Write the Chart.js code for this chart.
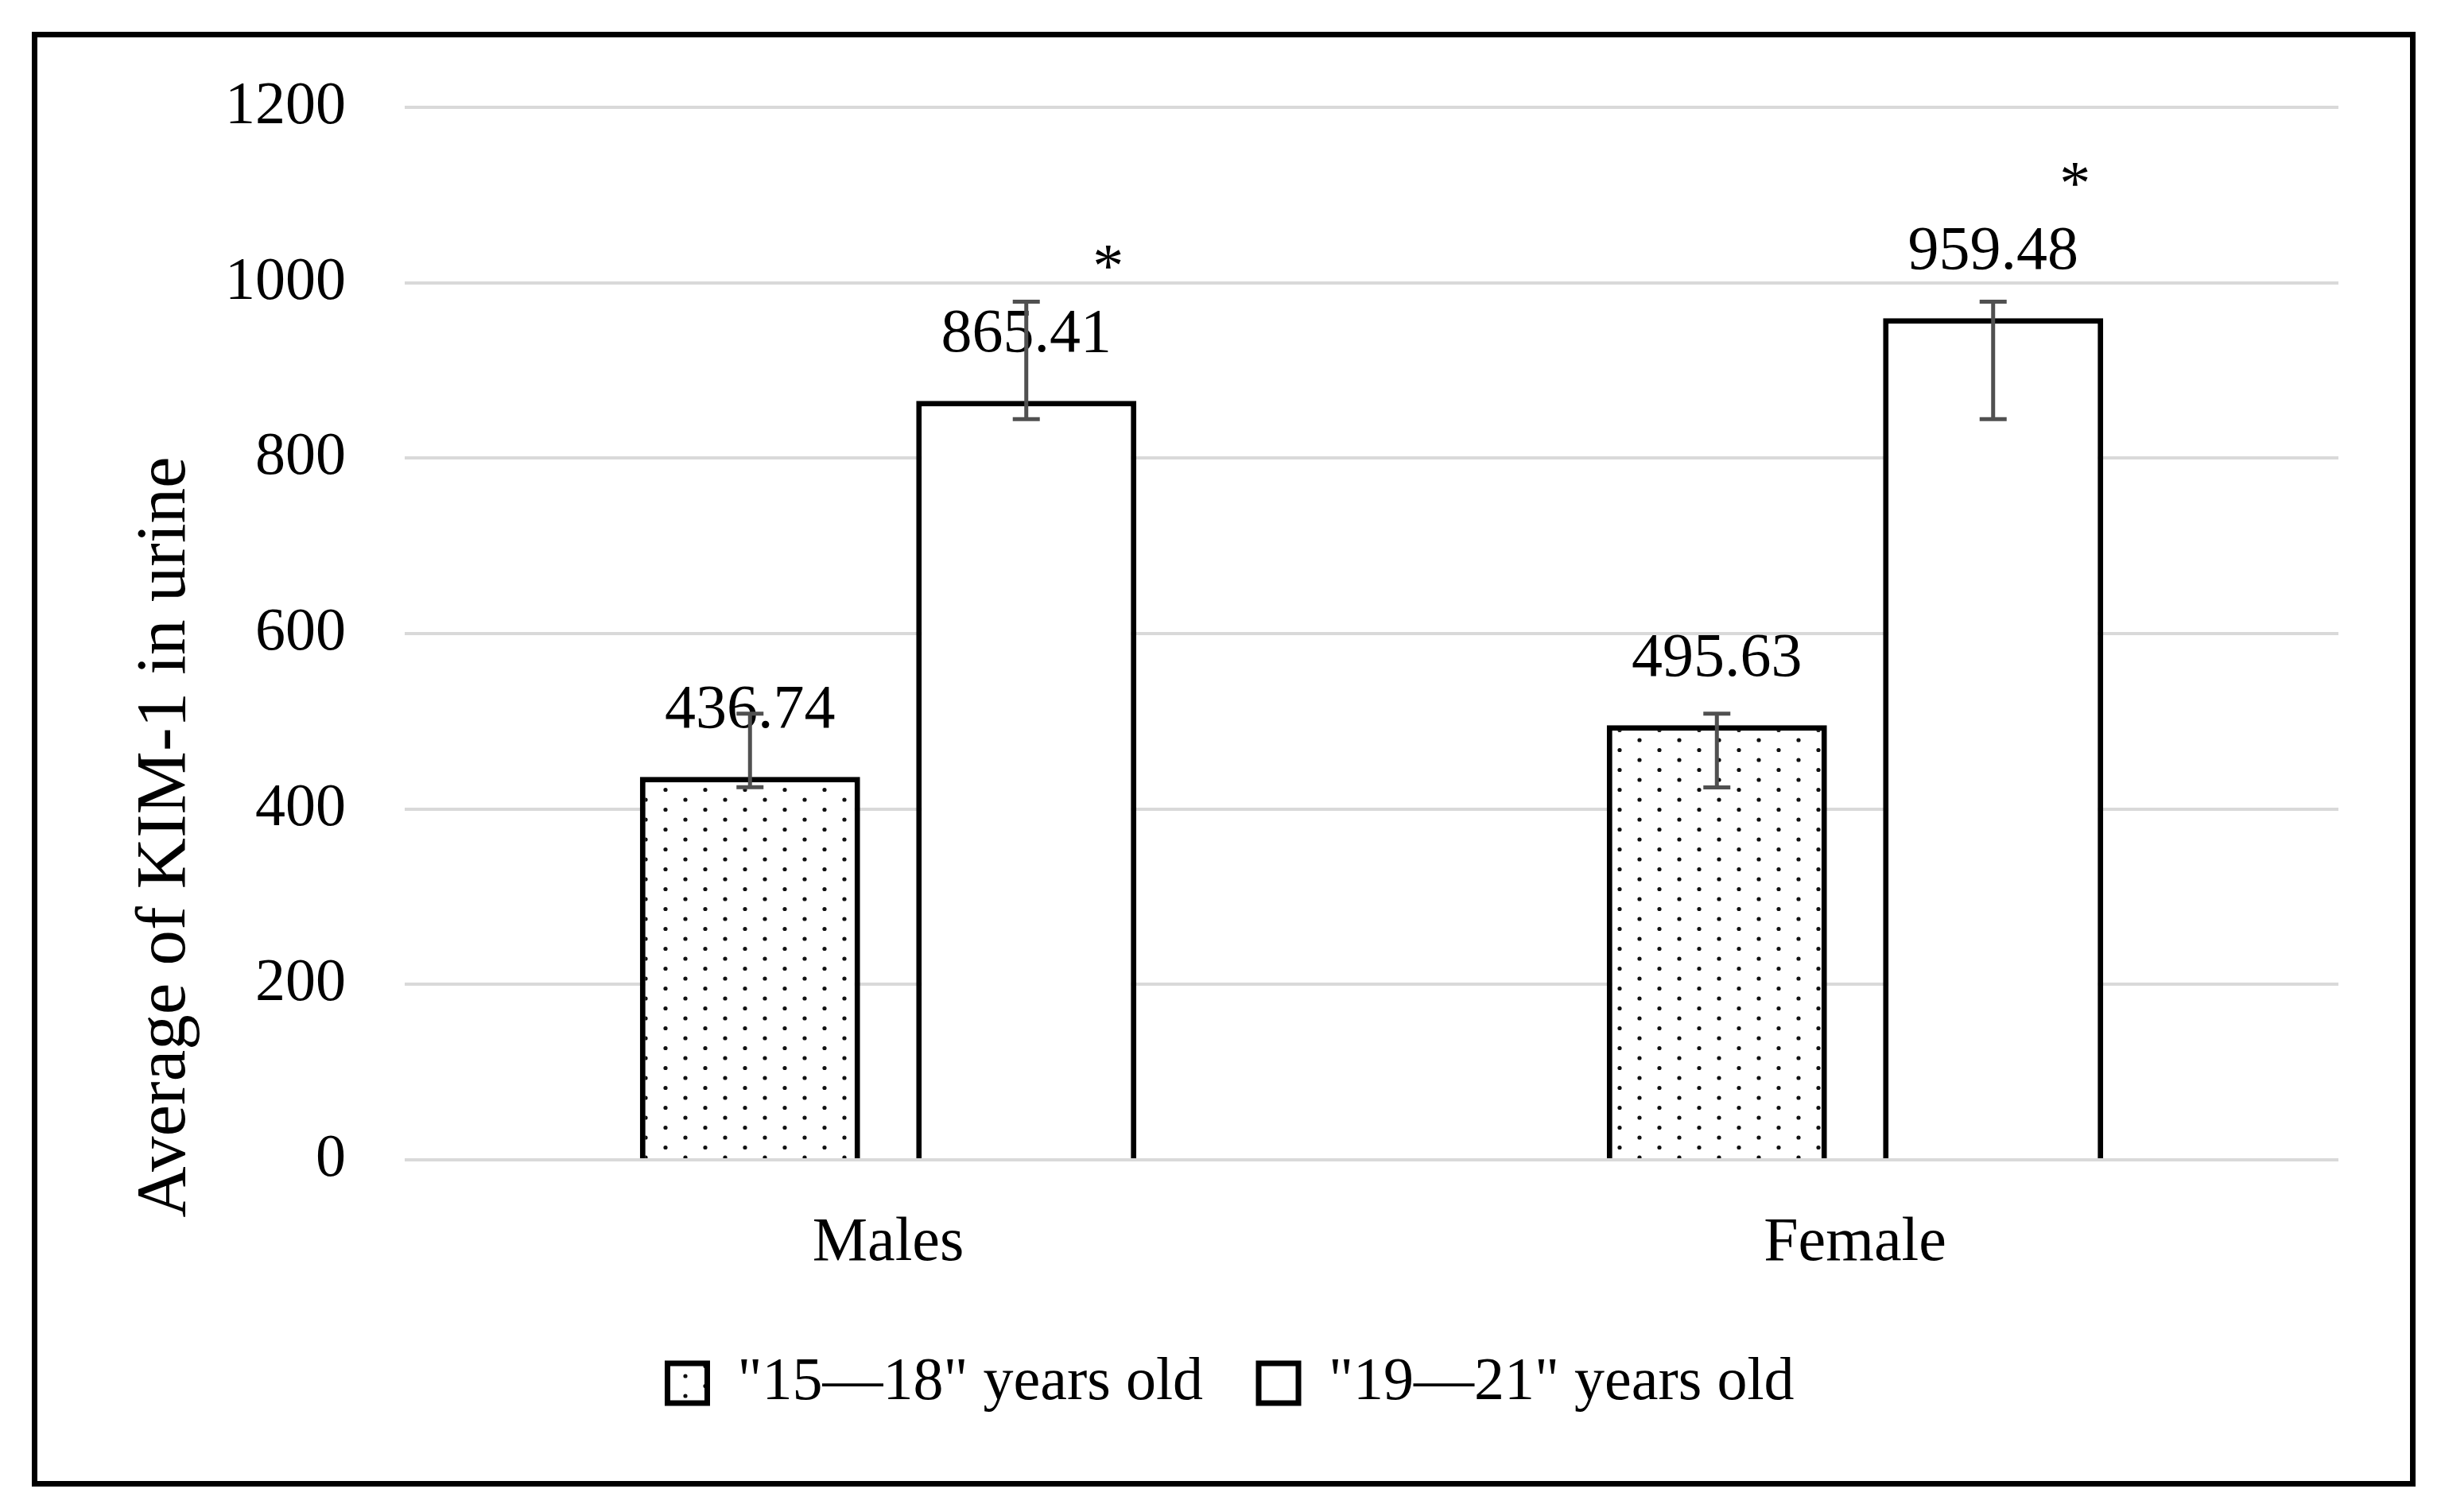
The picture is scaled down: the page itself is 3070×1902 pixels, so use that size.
<!DOCTYPE html>
<html>
<head>
<meta charset="utf-8">
<script src="https://cdn.jsdelivr.net/npm/chart.js@4.4.1/dist/chart.umd.min.js"></script>
<style>
    html, body { margin: 0; padding: 0; background: #fff; }
    #contenedor { position: relative; width: 3070px; height: 1902px; }
    #marco {
        position: absolute; left: 40px; top: 40px; width: 2998px; height: 1830px;
        border: 7px solid #000; box-sizing: border-box; pointer-events: none;
    }
</style>
</head>
<body>
<div id="contenedor">
    <canvas id="grafico"></canvas>
    <div id="marco"></div>
</div>
<script>
// Datos
const categorias = ['Males', 'Female'];
const nombresSeries = ['"15\u201418" years old', '"19\u201421" years old'];
const media1518 = [436.74, 495.63];
const media1921 = [865.41, 959.48];
const errArriba1518 = [72, 13];
const errAbajo1518 = [12, 71];
const errArriba1921 = [113, 19];
const errAbajo1921 = [21, 115];
const marcas1518 = ['', ''];
const marcas1921 = ['*', '*'];
const ticksY = [0, 200, 400, 600, 800, 1000, 1200];
const tituloY = 'Average of KIM-1 in urine';

const FUENTE = '"Liberation Serif", "Times New Roman", serif';

// Patron de puntos para la primera serie
function crearPatronPuntos(ctx) {
    const c = document.createElement('canvas');
    c.width = 50;
    c.height = 25;
    const p = c.getContext('2d');
    p.fillStyle = '#fff';
    p.fillRect(0, 0, 50, 25);
    p.fillStyle = '#111';
    p.beginPath();
    p.arc(12, 6, 2.6, 0, Math.PI * 2);
    p.moveTo(39.6, 18.5);
    p.arc(37, 18.5, 2.6, 0, Math.PI * 2);
    p.fill();
    return ctx.createPattern(c, 'repeat');
}

// ================== PLUGIN: etiquetas, barras de error, titulo ==================
const pluginExtras = {
    id: 'extras',
    afterDatasetsDraw(chart) {
        const ctx = chart.ctx;
        const escalaY = chart.scales.y;
        const area = chart.chartArea;

        ctx.save();
        ctx.fillStyle = '#000';
        ctx.textAlign = 'center';
        ctx.textBaseline = 'middle';
        ctx.font = '78px ' + FUENTE;

        // valores encima de cada barra
        chart.data.datasets.forEach((ds, i) => {
            chart.getDatasetMeta(i).data.forEach((barra, j) => {
                ctx.fillText(ds.data[j].toFixed(2), barra.x, barra.y - 83);
            });
        });

        // barras de error
        ctx.strokeStyle = '#505050';
        ctx.lineWidth = 5;
        chart.data.datasets.forEach((ds, i) => {
            chart.getDatasetMeta(i).data.forEach((barra, j) => {
                const arriba = escalaY.getPixelForValue(ds.data[j] + ds.errArriba[j]);
                const abajo = escalaY.getPixelForValue(ds.data[j] - ds.errAbajo[j]);
                ctx.beginPath();
                ctx.moveTo(barra.x, arriba);
                ctx.lineTo(barra.x, abajo);
                ctx.moveTo(barra.x - 17, arriba);
                ctx.lineTo(barra.x + 17, arriba);
                ctx.moveTo(barra.x - 17, abajo);
                ctx.lineTo(barra.x + 17, abajo);
                ctx.stroke();
            });
        });

        // asteriscos de significancia
        chart.data.datasets.forEach((ds, i) => {
            chart.getDatasetMeta(i).data.forEach((barra, j) => {
                if (ds.marcas[j]) ctx.fillText(ds.marcas[j], barra.x + 103, barra.y - 165);
            });
        });

        // titulo del eje Y
        ctx.translate(area.left - 277, (area.top + area.bottom) / 2 + 256);
        ctx.rotate(-Math.PI / 2);
        ctx.textBaseline = 'alphabetic';
        ctx.font = '89px ' + FUENTE;
        ctx.fillText(tituloY, 0, 0);
        ctx.restore();
    }
};

// ================== GRAFICO ==================
const lienzo = document.getElementById('grafico');
const patron = crearPatronPuntos(lienzo.getContext('2d'));

new Chart(lienzo, {
    type: 'bar',
    data: {
        labels: categorias,
        datasets: [
            {
                label: nombresSeries[0],
                data: media1518,
                errArriba: errArriba1518,
                errAbajo: errAbajo1518,
                marcas: marcas1518,
                backgroundColor: patron,
                borderColor: '#000',
                borderWidth: 7
            },
            {
                label: nombresSeries[1],
                data: media1921,
                errArriba: errArriba1921,
                errAbajo: errAbajo1921,
                marcas: marcas1921,
                backgroundColor: '#fff',
                borderColor: '#000',
                borderWidth: 7
            }
        ]
    },
    options: {
        responsive: true,
        maintainAspectRatio: false,
        devicePixelRatio: 1,
        animation: false,
        categoryPercentage: 0.5715,
        barPercentage: 0.797,
        layout: { padding: { left: 155, right: 129, top: 135, bottom: 114 } },
        plugins: {
            tooltip: { enabled: false },
            legend: {
                position: 'bottom',
                labels: {
                    boxWidth: 50,
                    boxHeight: 50,
                    padding: 70,
                    color: '#000',
                    font: { family: FUENTE, size: 76 }
                }
            }
        },
        scales: {
            x: {
                grid: { display: false, drawTicks: false },
                border: { display: false },
                ticks: { color: '#000', padding: 59, font: { family: FUENTE, size: 78 } },
                afterFit: (escala) => { escala.height = 173; }
            },
            y: {
                min: 0,
                max: 1200,
                grid: { color: '#d9d9d9', lineWidth: 4, drawTicks: false },
                border: { display: false },
                ticks: {
                    color: '#000',
                    padding: 74,
                    font: { family: FUENTE, size: 76 },
                    callback: (valor) => String(valor)
                },
                afterBuildTicks: (escala) => { escala.ticks = ticksY.map(v => ({ value: v })); },
                afterFit: (escala) => { escala.width = 354; }
            }
        }
    },
    plugins: [pluginExtras]
});
</script>
</body>
</html>
